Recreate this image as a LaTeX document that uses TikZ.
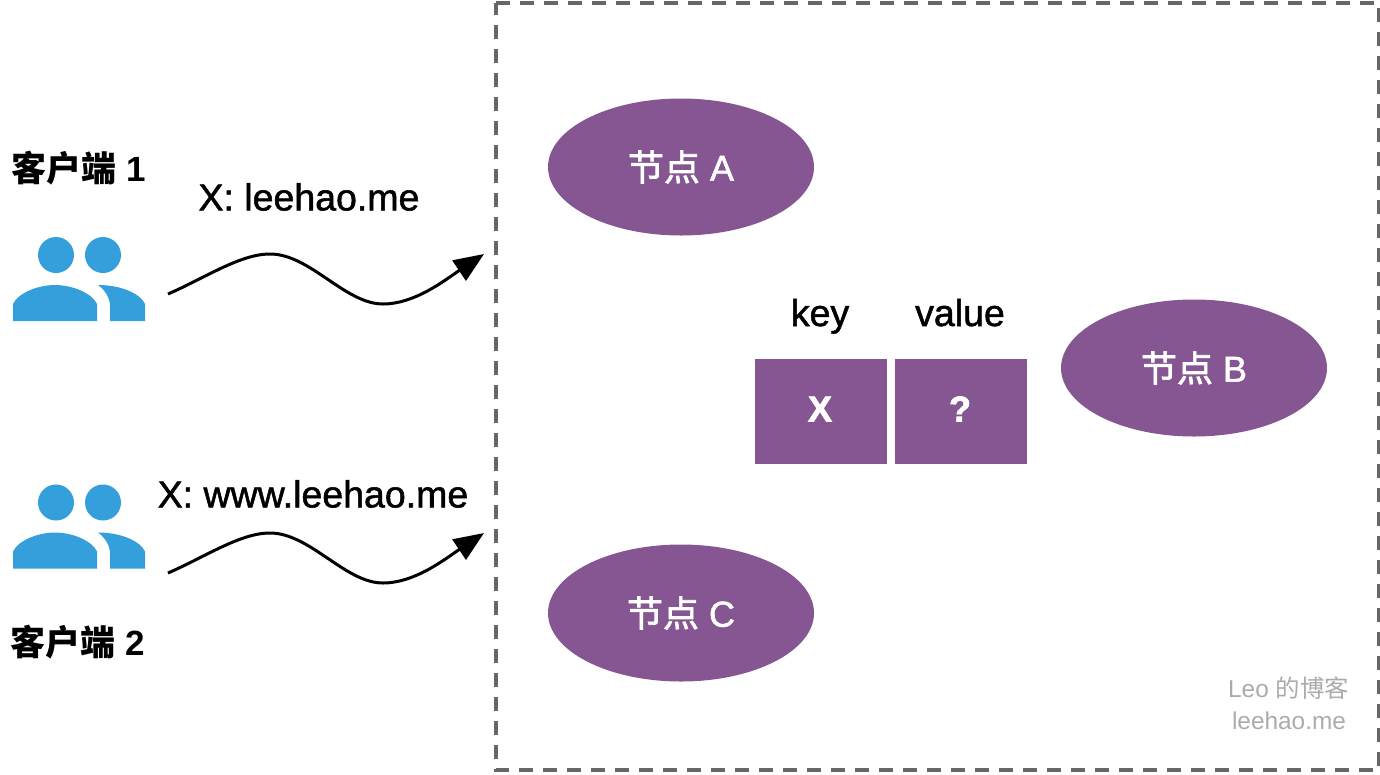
\documentclass[tikz,border=0pt]{standalone}
\usepackage{fontspec}
\setmainfont[FakeBold=1.4]{Liberation Sans}
\newfontfamily\cjkf[FakeBold=2]{Noto Sans CJK SC}
\newfontfamily\plainf{Liberation Sans}
\newfontfamily\plaincjk{Noto Sans CJK SC}
\newfontfamily\boldf[UprightFont={* Bold},FakeBold=2]{Liberation Sans}
\usetikzlibrary{arrows.meta,shapes.geometric}
\definecolor{nodepurple}{HTML}{855692}
\definecolor{iconblue}{HTML}{349FDA}
\definecolor{frameg}{HTML}{666666}
\definecolor{markg}{HTML}{ABABAB}
\tikzset{
  x=1pt,y=-1pt,
  store/.style={ellipse,fill=nodepurple,text=white,minimum width=266pt,minimum height=137pt,inner sep=0pt,font=\fontsize{36}{38}\selectfont},
  cell/.style={rectangle,fill=nodepurple,text=white,minimum width=132pt,minimum height=105pt,inner sep=0pt},
  celltxt/.style={inner sep=0pt,text=white,font=\boldf\fontsize{36}{38}\selectfont},
  lbl/.style={inner sep=0pt,text=black,font=\fontsize{37.5}{40}\selectfont},
  client/.style={inner sep=0pt,text=black,font=\plainf\fontsize{35}{38}\selectfont\bfseries},
  wmark/.style={inner sep=0pt,text=markg,font=\plainf\fontsize{24.4}{26}\selectfont},
  wave/.style={line width=3pt,-{Triangle[length=30pt,width=24pt]}},
  pics/users/.style={code={
    \fill[iconblue] (56,255) circle[radius=18];
    \fill[iconblue] (103,255) circle[radius=18];
    \fill[iconblue] (13,321) -- (13,304) .. controls (18,293) and (38,285) .. (55,285) .. controls (72,285) and (92,293) .. (97,304) -- (97,321) -- cycle;
    \fill[iconblue] (98,285) .. controls (120,285) and (140,293) .. (145,304) -- (145,321) -- (110,321) -- (110,306) .. controls (110,298) and (105,290) .. (98,285) -- cycle;
  }}
}
\begin{document}
\begin{tikzpicture}
\useasboundingbox (0,0) rectangle (1380,774);
\node[outer sep=0pt,minimum width=883pt,minimum height=767pt,inner sep=0pt,anchor=north west] (frame) at (496,3) {};
\draw[frameg,line width=3.2pt,dash pattern=on 14pt off 10pt] (frame.north west) -- (frame.north east) -- (frame.south east) -- (frame.south west) -- cycle;
\node[store] (a) at (681,167) {{\cjkf 节点} A};
\node[store] (b) at (1194,368) {{\cjkf 节点} B};
\node[store] (c) at (681,613) {{\cjkf 节点} C};
\node[cell] (kx) at (821,411.5) {};
\node[cell] (vq) at (961,411.5) {};
\node[celltxt] (kxt) at (820,409) {X};
\node[celltxt] (vqt) at (960,409) {?};
\node[lbl,anchor=base] (keyl) at (820,326) {key};
\node[lbl,anchor=base] (vall) at (960,326) {value};
\node[client] (c1) at (79,168) {{\plaincjk\bfseries 客户端} 1};
\node[client] (c2) at (78,642) {{\plaincjk\bfseries 客户端} 2};
\node[lbl] (m1) at (309,197) {X: leehao.me};
\node[lbl] (m2) at (313,494) {X: www.leehao.me};
\node[wmark] (w1) at (1288.5,688) {Leo {\plaincjk 的博客}};
\node[wmark] (w2) at (1289,721) {leehao.me};
\pic {users};
\pic[yshift=-247.5pt] {users};
\coordinate (s1) at (168,294);
\coordinate (e1) at (484,254);
\coordinate (s2) at (168,573);
\coordinate (e2) at (484,533);
\draw[wave] (s1) .. controls (205,278) and (240,254) .. (270,254) .. controls (310,254) and (345,304) .. (383,304) .. controls (415,304) and (445,280) .. (e1);
\draw[wave] (s2) .. controls (205,557) and (240,533) .. (270,533) .. controls (310,533) and (345,583) .. (383,583) .. controls (415,583) and (445,559) .. (e2);
\end{tikzpicture}
\end{document}
